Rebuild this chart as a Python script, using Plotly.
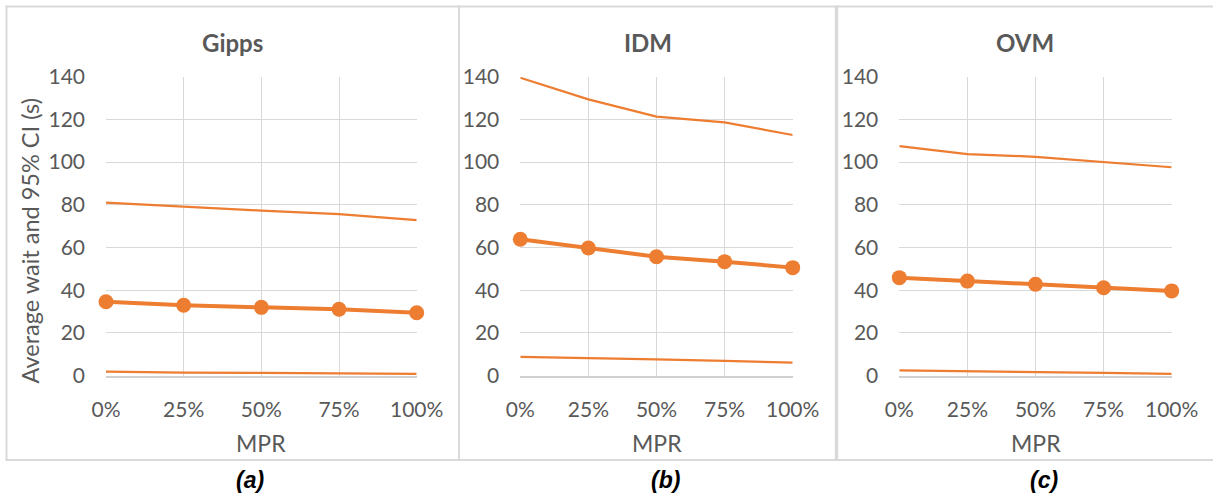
import plotly.graph_objects as go

# MPR categories shared by all three panels
mpr = ["0%", "25%", "50%", "75%", "100%"]

# Average wait (s) and 95% CI bounds per car-following model
gipps_mean = [34.6, 33.0, 32.0, 31.1, 29.5]
gipps_upper = [81.0, 79.1, 77.3, 75.7, 72.8]
gipps_lower = [1.9, 1.4, 1.3, 0.9, 0.8]

idm_mean = [63.9, 59.8, 55.7, 53.4, 50.6]
idm_upper = [139.5, 129.4, 121.3, 118.6, 112.7]
idm_lower = [8.8, 8.4, 7.7, 6.9, 6.1]

ovm_mean = [45.9, 44.3, 42.8, 41.2, 39.7]
ovm_upper = [107.5, 103.8, 102.5, 99.9, 97.6]
ovm_lower = [2.5, 2.0, 1.7, 1.3, 0.9]

titles = ["Gipps", "IDM", "OVM"]
captions = ["(a)", "(b)", "(c)"]
y_ticks = [0, 20, 40, 60, 80, 100, 120, 140]

W, H = 1213, 497
ORANGE = "#ED7D31"
GRID = "#D9D9D9"
TEXT = "#595959"
FONT = "Lato"


def px(x):
    return x / W


def py(y):
    return 1 - y / H


# plot-area pixel extents for each panel
plot_x = [(106, 416.7), (520.3, 792.7), (899.3, 1171.7)]
plot_y = (76.7, 375.7)
panel_x = [(6.5, 459), (459, 836.5), (836.5, 1214)]

fig = go.Figure()

series = [
    (gipps_mean, gipps_upper, gipps_lower),
    (idm_mean, idm_upper, idm_lower),
    (ovm_mean, ovm_upper, ovm_lower),
]

for i, (mean, upper, lower) in enumerate(series):
    xa = "x" if i == 0 else f"x{i + 1}"
    ya = "y" if i == 0 else f"y{i + 1}"
    for vals in (upper, lower):
        fig.add_trace(go.Scatter(
            x=mpr, y=vals, xaxis=xa, yaxis=ya, mode="lines",
            line=dict(color=ORANGE, width=2.25), showlegend=False,
            cliponaxis=False, hoverinfo="skip",
        ))
    fig.add_trace(go.Scatter(
        x=mpr, y=mean, xaxis=xa, yaxis=ya, mode="lines+markers",
        line=dict(color=ORANGE, width=4), marker=dict(color=ORANGE, size=15),
        showlegend=False, cliponaxis=False,
    ))

layout = dict(
    template="none",
    width=W, height=H,
    margin=dict(l=0, r=0, t=0, b=0, pad=0, autoexpand=False),
    paper_bgcolor="white", plot_bgcolor="white",
    font=dict(family=FONT, color=TEXT, size=20),
    showlegend=False,
)

annotations = []
shapes = []
for i in range(3):
    suffix = "" if i == 0 else str(i + 1)
    x0, x1 = plot_x[i]
    layout[f"xaxis{suffix}"] = dict(
        domain=[px(x0), px(x1)], anchor=f"y{suffix}",
        type="category", range=[0, 4], automargin=False,
        showgrid=True, gridcolor=GRID, gridwidth=1.3,
        showline=True, linecolor="#D0D0D0", linewidth=2, mirror=False,
        zeroline=False, ticks="", ticklabelstandoff=14,
        tickfont=dict(family=FONT, color=TEXT, size=21),
    )
    layout[f"yaxis{suffix}"] = dict(
        domain=[py(plot_y[1]), py(plot_y[0])], anchor=f"x{suffix}",
        range=[0, 140], tickvals=y_ticks, automargin=False,
        showgrid=True, gridcolor=GRID, gridwidth=1.3,
        showline=False, zeroline=False, ticks="", ticklabelstandoff=20,
        tickfont=dict(family=FONT, color=TEXT, size=21),
    )
    pcx = (panel_x[i][0] + panel_x[i][1]) / 2
    annotations.append(dict(
        text=f"<b>{titles[i]}</b>", x=px(pcx), y=py(42), xref="paper", yref="paper",
        showarrow=False, xanchor="center", yanchor="middle",
        font=dict(family=FONT, color=TEXT, size=24),
    ))
    annotations.append(dict(
        text="MPR", x=px((x0 + x1) / 2), y=py(443), xref="paper", yref="paper",
        showarrow=False, xanchor="center", yanchor="middle",
        font=dict(family=FONT, color=TEXT, size=23),
    ))
    annotations.append(dict(
        text=f"<b><i>{captions[i]}</i></b>", x=px([250, 665.7, 1044.3][i]), y=py(480),
        xref="paper", yref="paper", showarrow=False,
        xanchor="center", yanchor="middle",
        font=dict(family="Liberation Sans", color="black", size=23),
    ))

annotations.append(dict(
    text="Average wait and 95% CI (s)", x=px(29), y=py(241.5),
    xref="paper", yref="paper", showarrow=False, textangle=-90,
    xanchor="center", yanchor="middle",
    font=dict(family=FONT, color=TEXT, size=23.5),
))

# panel frames
for a, b in panel_x:
    shapes.append(dict(
        type="rect", xref="paper", yref="paper",
        x0=px(a), x1=px(b), y0=py(460), y1=py(6.5),
        line=dict(color=GRID, width=2), fillcolor="rgba(0,0,0,0)",
    ))
shapes.append(dict(
    type="line", xref="paper", yref="paper",
    x0=px(836.5), x1=px(836.5), y0=py(460), y1=py(6.5),
    line=dict(color=GRID, width=3.5),
))

layout["annotations"] = annotations
layout["shapes"] = shapes
fig.update_layout(**layout)

fig.write_html("out.html")
